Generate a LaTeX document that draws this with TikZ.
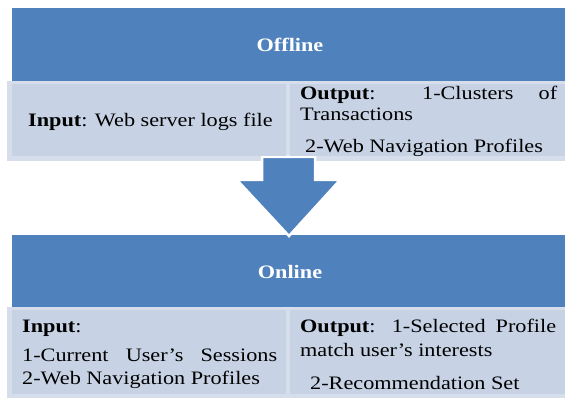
\documentclass[tikz,border=0pt]{standalone}
\usepackage{fontspec}
\setmainfont[FakeStretch=1.17]{Liberation Serif}
\definecolor{myblue}{RGB}{79,129,189}
\definecolor{panelc}{RGB}{199,211,229}
\definecolor{framec}{RGB}{214,222,235}
\tikzset{
  bar/.style={fill=myblue},
  framebox/.style={fill=framec},
  panel/.style={fill=panelc},
  title/.style={inner sep=0pt, text=white, font=\fontsize{19}{21}\selectfont\bfseries},
  txt/.style={anchor=base west, inner sep=0pt, font=\fontsize{19}{21}\selectfont},
  blockarrow/.style={fill=myblue, draw=white, line width=2.5pt, line join=miter}
}
\begin{document}
\begin{tikzpicture}[x=1pt,y=-1pt]
\useasboundingbox (0,0) rectangle (565,398);
\fill[white] (0,0) rectangle (565,398);
% offline block
\fill[bar] (12,8) rectangle (565,82);
\fill[framebox] (7,81) rectangle (565,161);
% online block
\fill[bar] (12,235) rectangle (565,309);
\fill[framebox] (7,307) rectangle (565,398);
% arrow
\draw[blockarrow] (262,157) -- (315,157) -- (315,180) -- (340,180) -- (289,236) -- (237,180) -- (262,180) -- cycle;
% panels
\fill[panel] (12,84) rectangle (286,156);
\fill[panel] (290,84) rectangle (565,156);
\fill[panel] (12,310) rectangle (286,394);
\fill[panel] (290,310) rectangle (565,394);
% texts
\node[title] (off) at (290,45) {Offline};
\node[title] (on) at (290,272) {Online};
\node[txt] (in1) at (28,127) {\textbf{Input}: Web server logs file};
\node[txt] (out1a) at (300,100) {\makebox[257pt][s]{\textbf{Output}: 1-Clusters of}};
\node[txt] (out1b) at (300,121) {Transactions};
\node[txt] (out1c) at (305,153) {2-Web Navigation Profiles};
\node[txt] (in2a) at (22,332) {\textbf{Input}:};
\node[txt] (in2b) at (22,361) {\makebox[255pt][s]{1-Current User’s Sessions}};
\node[txt] (in2c) at (22,384) {2-Web Navigation Profiles};
\node[txt] (out2a) at (300,332) {\makebox[256pt][s]{\textbf{Output}: 1-Selected Profile}};
\node[txt] (out2b) at (300,356) {match user’s interests};
\node[txt] (out2c) at (310,389) {2-Recommendation Set};
\end{tikzpicture}
\end{document}
